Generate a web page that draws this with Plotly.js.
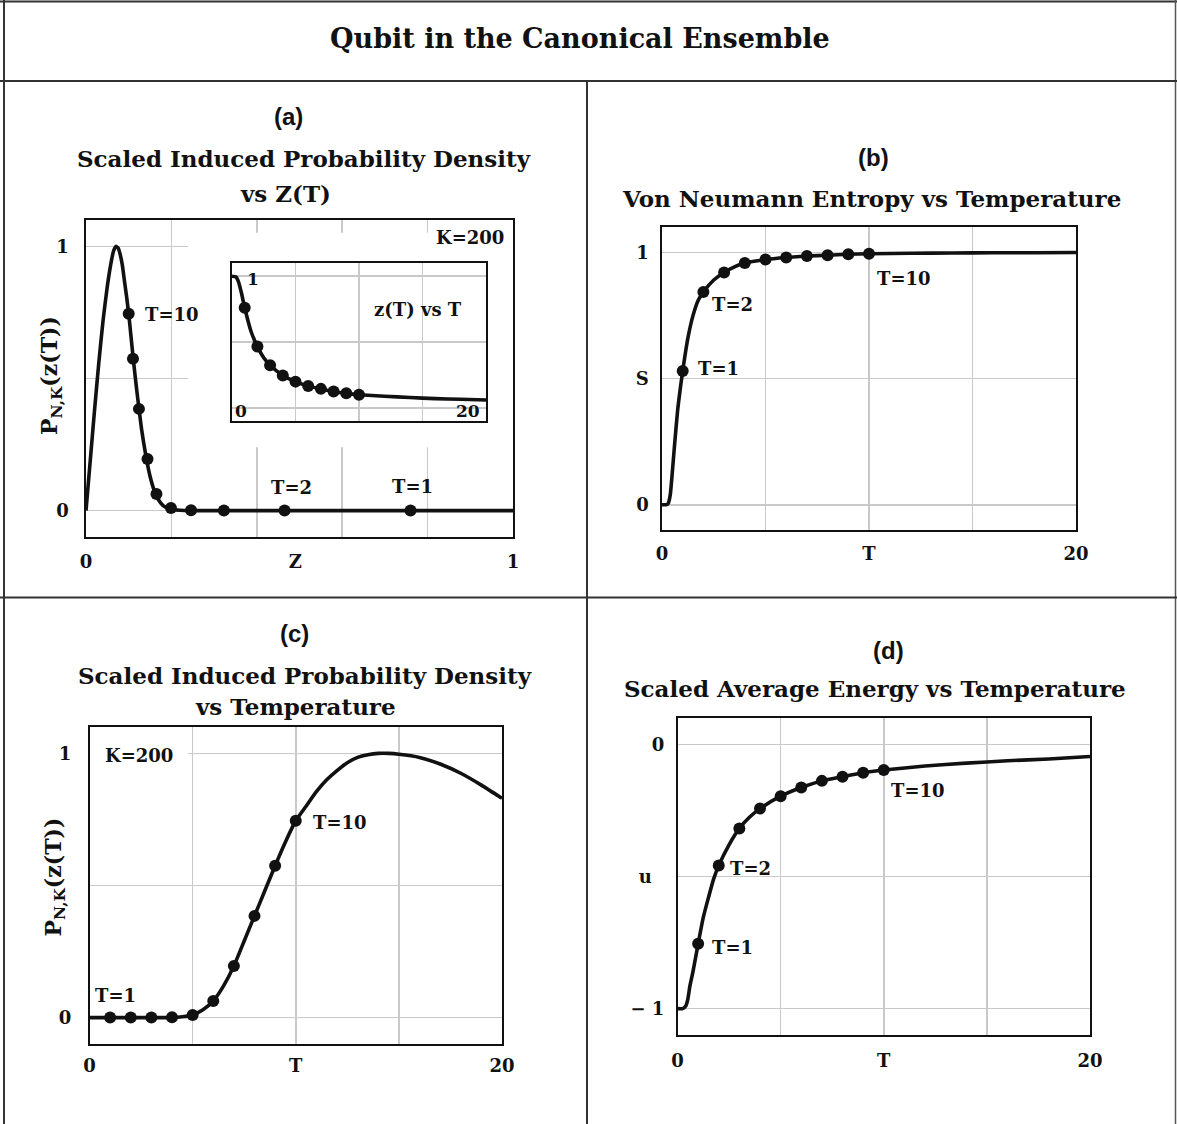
<!DOCTYPE html>
<html>
<head>
<meta charset="utf-8">
<script src="https://cdn.plot.ly/plotly-3.0.1.min.js"></script>
<style>
  html, body { margin: 0; padding: 0; background: #ffffff; }
  #chart { width: 1177px; height: 1124px; }
</style>
</head>
<body>
<div id="chart"></div>
<script>
// ---------------- data ----------------
const markerT = [1, 2, 3, 4, 5, 6, 7, 8, 9, 10];
const markerZ = [0.76, 0.465, 0.323, 0.246, 0.199, 0.165, 0.144, 0.124, 0.11, 0.10];
const markerP = [0, 0, 0, 0.001, 0.01, 0.063, 0.195, 0.385, 0.575, 0.745];
const markerS = [0.53, 0.843, 0.92, 0.957, 0.971, 0.979, 0.985, 0.988, 0.992, 0.994];
const markerU = [-0.755, -0.458, -0.318, -0.243, -0.196, -0.163, -0.138, -0.122, -0.107, -0.097];

// (a) P vs z
const curveAz = [0, 0.01, 0.02, 0.03, 0.04, 0.05, 0.06, 0.065, 0.07, 0.075, 0.08, 0.085, 0.09, 0.095,
                 0.10, 0.105, 0.11, 0.115, 0.12, 0.13, 0.14, 0.15, 0.16, 0.17, 0.18, 0.19, 0.20, 0.22,
                 0.25, 0.3, 0.4, 0.5, 0.6, 0.7, 0.8, 0.9, 1.0];
const curveAp = [0, 0.19, 0.38, 0.56, 0.72, 0.85, 0.95, 0.985, 1.0, 0.995, 0.97, 0.93, 0.87, 0.81,
                 0.745, 0.665, 0.585, 0.51, 0.44, 0.31, 0.21, 0.13, 0.075, 0.04, 0.02, 0.01, 0.005, 0.001,
                 0, 0, 0, 0, 0, 0, 0, 0, 0];

// inset z(T) vs T
const curveZT = [0, 0.3, 0.5, 0.75, 1, 1.5, 2, 2.5, 3, 4, 5, 6, 7, 8, 9, 10, 12, 14, 16, 18, 20];
const curveZz = [1, 0.995, 0.96, 0.87, 0.76, 0.58, 0.465, 0.38, 0.323, 0.246, 0.199, 0.165, 0.144, 0.124,
                 0.11, 0.10, 0.088, 0.078, 0.07, 0.065, 0.06];

// (b) S vs T
const curveBT = [0, 0.2, 0.3, 0.4, 0.5, 0.6, 0.75, 0.9, 1, 1.25, 1.5, 1.75, 2, 2.5, 3, 3.5, 4, 5, 6, 7, 8, 9, 10,
                 12, 14, 16, 18, 20];
const curveBs = [0, 0, 0.005, 0.04, 0.13, 0.23, 0.37, 0.47, 0.53, 0.66, 0.75, 0.81, 0.843, 0.89, 0.92, 0.942,
                 0.957, 0.971, 0.979, 0.985, 0.988, 0.992, 0.994, 0.996, 0.997, 0.998, 0.998, 0.999];

// (c) P vs T
const curveCT = [0, 1, 2, 3, 4, 4.5, 5, 5.5, 6, 6.5, 7, 7.5, 8, 8.5, 9, 9.5, 10, 10.5, 11, 11.5, 12, 12.5,
                 13, 13.5, 14, 14.5, 15, 16, 17, 18, 19, 20];
const curveCp = [0, 0, 0, 0, 0, 0.003, 0.01, 0.03, 0.063, 0.12, 0.195, 0.29, 0.385, 0.48, 0.575, 0.665,
                 0.745, 0.80, 0.855, 0.90, 0.935, 0.965, 0.985, 0.995, 1.0, 1.0, 0.997, 0.985, 0.96, 0.925,
                 0.88, 0.83];

// (d) u vs T
const curveDT = [0, 0.25, 0.4, 0.5, 0.6, 0.75, 1, 1.25, 1.5, 1.75, 2, 2.5, 3, 3.5, 4, 5, 6, 7, 8, 9, 10,
                 12, 14, 16, 18, 20];
const curveDu = [-1, -1, -0.99, -0.965, -0.915, -0.86, -0.755, -0.655, -0.58, -0.51, -0.458, -0.38, -0.318,
                 -0.275, -0.243, -0.196, -0.163, -0.138, -0.122, -0.107, -0.097, -0.082, -0.071, -0.062,
                 -0.055, -0.046];

// tick labels
const xTickValsA = [0, 0.49, 1];
const xTicksA = ['0', 'Z', '1'];
const xTickValsT = [0, 10, 20];
const xTicksT = ['0', 'T', '20'];
const yTickValsP = [0, 1];
const yTicksP = ['0', '1'];
const yTickValsB = [0, 0.5, 1];
const yTicksB = ['0', 'S', '1'];
const yTickValsD = [-1, -0.5, 0];
const yTicksD = ['\u2212 1', 'u\u00a0\u00a0', '0'];

// ---------------- helpers ----------------
const W = 1177, H = 1124;
const px = v => v / W;
const py = v => 1 - v / H;

const SERIF = 'DejaVu Serif';
const SANS = 'Liberation Sans';
const INK = '#111111';
const GRID = '#c9c9c9';

function lineTrace(x, y, xa, ya) {
  return { x: x, y: y, xaxis: xa, yaxis: ya, mode: 'lines', type: 'scatter',
           line: { color: INK, width: 3.6, shape: 'spline', smoothing: 0.5 },
           hoverinfo: 'skip', showlegend: false };
}
function dotTrace(x, y, xa, ya) {
  return { x: x, y: y, xaxis: xa, yaxis: ya, mode: 'markers', type: 'scatter',
           marker: { color: INK, size: 12, line: { width: 0 } },
           hoverinfo: 'skip', showlegend: false };
}

const data = [
  lineTrace(curveAz, curveAp, 'x', 'y'),
  dotTrace(markerZ, markerP, 'x', 'y'),
  lineTrace(curveBT, curveBs, 'x2', 'y2'),
  dotTrace(markerT, markerS, 'x2', 'y2'),
  lineTrace(curveCT, curveCp, 'x3', 'y3'),
  dotTrace(markerT, markerP, 'x3', 'y3'),
  lineTrace(curveDT, curveDu, 'x4', 'y4'),
  dotTrace(markerT, markerU, 'x4', 'y4'),
  lineTrace(curveZT, curveZz, 'x5', 'y5'),
  dotTrace(markerT, markerZ, 'x5', 'y5')
];

const tickfont = { family: SERIF, size: 18, color: INK, weight: 'bold' };

function axBase(extra) {
  return Object.assign({
    showline: true, mirror: true, linecolor: INK, linewidth: 1.6,
    zeroline: false, fixedrange: true,
    gridcolor: GRID, gridwidth: 1.5,
    ticks: 'outside', tickcolor: 'rgba(0,0,0,0)',
    tickmode: 'array', tickfont: tickfont
  }, extra);
}
function minorGrid(vals) {
  return { tickmode: 'array', tickvals: vals, showgrid: true, gridcolor: GRID, gridwidth: 1.5, ticks: '' };
}

const layout = {
  width: W, height: H,
  margin: { l: 0, r: 0, t: 0, b: 0, pad: 0 },
  paper_bgcolor: '#ffffff', plot_bgcolor: '#ffffff',
  font: { family: SERIF, size: 18, color: INK, weight: 'bold' },
  showlegend: false,

  // (a)
  xaxis: axBase({ domain: [px(86), px(513)], range: [0, 1], anchor: 'y',
                  tickvals: xTickValsA, ticktext: xTicksA, showgrid: false, ticklen: 8,
                  minor: minorGrid([0.2, 0.4, 0.6, 0.8]) }),
  yaxis: axBase({ domain: [py(537), py(220)], range: [-0.1, 1.1], anchor: 'x',
                  tickvals: yTickValsP, ticktext: yTicksP, showgrid: true, ticklen: 12,
                  minor: minorGrid([0.5]) }),
  // (b)
  xaxis2: axBase({ domain: [px(662), px(1076)], range: [0, 20], anchor: 'y2',
                   tickvals: xTickValsT, ticktext: xTicksT, showgrid: true, ticklen: 7,
                   minor: minorGrid([5, 15]) }),
  yaxis2: axBase({ domain: [py(530), py(227)], range: [-0.1, 1.1], anchor: 'x2',
                   tickvals: yTickValsB, ticktext: yTicksB, showgrid: true, ticklen: 8 }),
  // (c)
  xaxis3: axBase({ domain: [px(89.5), px(502)], range: [0, 20], anchor: 'y3',
                   tickvals: xTickValsT, ticktext: xTicksT, showgrid: true, ticklen: 5,
                   minor: minorGrid([5, 15]) }),
  yaxis3: axBase({ domain: [py(1044), py(727)], range: [-0.1, 1.1], anchor: 'x3',
                   tickvals: yTickValsP, ticktext: yTicksP, showgrid: true, ticklen: 13,
                   minor: minorGrid([0.5]) }),
  // (d)
  xaxis4: axBase({ domain: [px(677.5), px(1090)], range: [0, 20], anchor: 'y4',
                   tickvals: xTickValsT, ticktext: xTicksT, showgrid: true, ticklen: 9,
                   minor: minorGrid([5, 15]) }),
  yaxis4: axBase({ domain: [py(1035), py(718)], range: [-1.1, 0.1], anchor: 'x4',
                   tickvals: yTickValsD, ticktext: yTicksD, showgrid: true, ticklen: 8 }),
  // inset z(T) vs T
  xaxis5: axBase({ domain: [px(232), px(486)], range: [0, 20], anchor: 'y5',
                   tickvals: [5, 10, 15], showticklabels: false, showgrid: true, ticks: '' }),
  yaxis5: axBase({ domain: [py(421), py(263)], range: [-0.1, 1.1], anchor: 'x5',
                   tickvals: [0, 0.5, 1], showticklabels: false, showgrid: true, ticks: '' }),

  shapes: [
    // white masks hiding grid lines behind the inset / labels
    { type: 'rect', layer: 'between', xref: 'x', yref: 'y', x0: 0.239, x1: 1.0, y0: 0.24, y1: 1.052,
      fillcolor: '#ffffff', line: { width: 0 } },
    { type: 'rect', layer: 'between', xref: 'x3', yref: 'y3', x0: 0, x1: 4.78, y0: 0.965, y1: 1.035,
      fillcolor: '#ffffff', line: { width: 0 } },
    // page frame / separators
    { type: 'line', xref: 'paper', yref: 'paper', x0: 0, x1: 1, y0: py(1.5), y1: py(1.5),
      line: { color: '#333333', width: 2 } },
    { type: 'line', xref: 'paper', yref: 'paper', x0: px(4), x1: px(4), y0: 0, y1: py(0),
      line: { color: '#333333', width: 2 } },
    { type: 'line', xref: 'paper', yref: 'paper', x0: px(1175.5), x1: px(1175.5), y0: 0, y1: py(0),
      line: { color: '#555555', width: 1.5 } },
    { type: 'line', xref: 'paper', yref: 'paper', x0: 0, x1: 1, y0: py(81), y1: py(81),
      line: { color: '#333333', width: 2 } },
    { type: 'line', xref: 'paper', yref: 'paper', x0: 0, x1: 1, y0: py(597.5), y1: py(597.5),
      line: { color: '#333333', width: 2 } },
    { type: 'line', xref: 'paper', yref: 'paper', x0: px(587), x1: px(587), y0: 0, y1: py(81),
      line: { color: '#333333', width: 2 } }
  ],
  annotations: []
};

function note(text, x, y, size, family, extra) {
  layout.annotations.push(Object.assign({
    text: text, xref: 'paper', yref: 'paper', x: px(x), y: py(y),
    xanchor: 'center', yanchor: 'middle', showarrow: false,
    font: { family: family || SERIF, size: size || 18, color: INK, weight: 'bold' }
  }, extra || {}));
}

// main title
note('Qubit in the Canonical Ensemble', 580, 39, 27);

// (a)
note('(a)', 288, 116, 24, SANS);
note('Scaled Induced Probability Density', 304, 159, 23);
note('vs Z(T)', 285, 193, 23);
note('P<sub>N,K</sub>(z(T))', 51, 376, 22, SERIF, { textangle: -90 });
note('T=10', 172, 314, 18);
note('T=2', 291, 487, 18);
note('T=1', 412, 486, 18);
note('K=200', 470, 237, 18);
note('z(T) vs T', 418, 310, 18);
note('1', 253, 279, 17);
note('0', 241, 411, 17);
note('20', 468, 411, 17);

// (b)
note('(b)', 873, 158, 24, SANS);
note('Von Neumann Entropy vs Temperature', 871, 198, 23);
note('T=10', 904, 278, 18);
note('T=2', 733, 304, 18);
note('T=1', 718, 368, 18);

// (c)
note('(c)', 294, 633, 24, SANS);
note('Scaled Induced Probability Density', 305, 675, 23);
note('vs Temperature', 295, 707, 23);
note('P<sub>N,K</sub>(z(T))', 54.5, 877, 22, SERIF, { textangle: -90 });
note('K=200', 139, 755, 18);
note('T=1', 115, 995, 18);
note('T=10', 340, 822, 18);

// (d)
note('(d)', 888, 650, 24, SANS);
note('Scaled Average Energy vs Temperature', 875, 688, 23);
note('T=10', 918, 790, 18);
note('T=2', 750, 868, 18);
note('T=1', 733, 947, 18);

Plotly.newPlot('chart', data, layout, { staticPlot: true, displayModeBar: false });
</script>
</body>
</html>
